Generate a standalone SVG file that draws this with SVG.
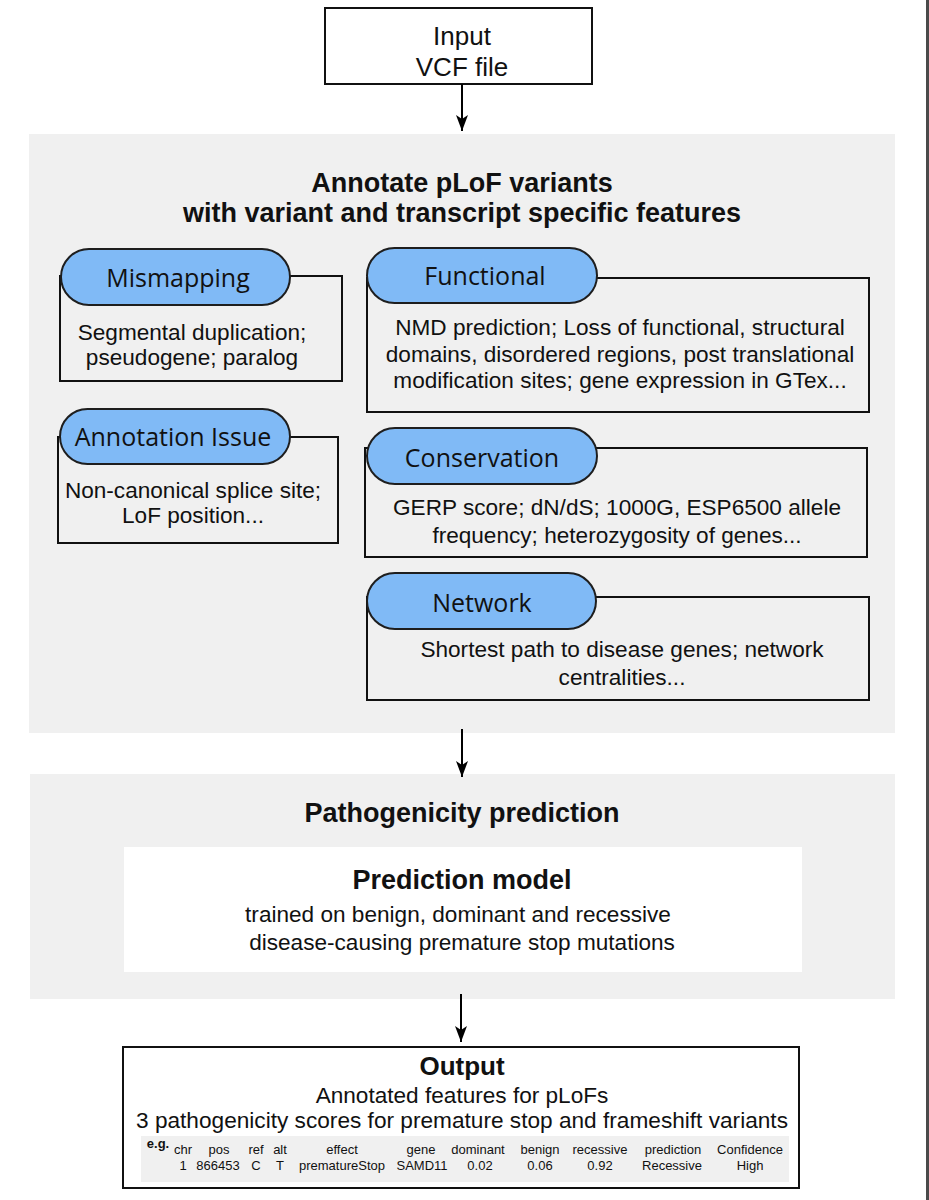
<svg xmlns="http://www.w3.org/2000/svg" width="929" height="1200" viewBox="0 0 929 1200">
<style>
  .t{font-family:"Liberation Sans",Arial,sans-serif;fill:#111;text-anchor:middle}
  .b{font-weight:bold}
  .body{font-size:22.6px}
  .pill{fill:#80baf6;stroke:#1e1e1e;stroke-width:2}
  .box{fill:none;stroke:#111;stroke-width:2}
  .plab{font-family:"Open Sans","Noto Sans",sans-serif;font-size:25px;fill:#111;text-anchor:middle}
  .panel{fill:#f0f0f0}
  .tb{font-family:"Liberation Sans",Arial,sans-serif;font-size:13px;fill:#111;text-anchor:middle}
  .conn{stroke:#000;stroke-width:2;fill:none;marker-end:url(#ah)}
</style>
<defs>
  <marker id="ah" viewBox="0 0 16 12" markerWidth="16" markerHeight="12" refX="16" refY="6" orient="auto" markerUnits="userSpaceOnUse">
    <path d="M0,0 L16,6 L0,12 L4,6 z" fill="#000"/>
  </marker>
</defs>
<rect x="0" y="0" width="929" height="1200" fill="#fff"/>
<rect x="926" y="0" width="3" height="1200" fill="#4a4a4a"/>

<g id="input">
  <rect x="325" y="8" width="267" height="76" fill="#fff" stroke="#111" stroke-width="2"/>
  <text class="t" x="462" y="45" font-size="26">Input</text>
  <text class="t" x="462" y="76" font-size="26">VCF file</text>
</g>

<g id="annotate">
  <rect class="panel" x="29" y="134" width="866" height="599"/>
  <text class="t b" x="462" y="192" font-size="27">Annotate pLoF variants</text>
  <text class="t b" x="462" y="222" font-size="27">with variant and transcript specific features</text>
</g>

<g id="mismapping">
  <rect class="box" x="60" y="276" width="282" height="105"/>
  <rect class="pill" x="61" y="249" width="229" height="56" rx="28" ry="28"/>
  <text class="plab" x="178" y="287">Mismapping</text>
  <text class="t body" x="192" y="340">Segmental duplication;</text>
  <text class="t body" x="192" y="365">pseudogene; paralog</text>
</g>

<g id="annotation-issue">
  <rect class="box" x="58" y="437" width="280" height="106"/>
  <rect class="pill" x="60" y="409" width="230" height="55" rx="27.5" ry="27.5"/>
  <text class="plab" x="173" y="446">Annotation Issue</text>
  <text class="t body" x="193" y="498">Non-canonical splice site;</text>
  <text class="t body" x="193" y="523">LoF position...</text>
</g>

<g id="functional">
  <rect class="box" x="367" y="278" width="502" height="134"/>
  <rect class="pill" x="367" y="248" width="230" height="55" rx="27.5" ry="27.5"/>
  <text class="plab" x="485" y="285">Functional</text>
  <text class="t body" x="620" y="335">NMD prediction; Loss of functional, structural</text>
  <text class="t body" x="620" y="362">domains, disordered regions, post translational</text>
  <text class="t body" x="620" y="388">modification sites; gene expression in GTex...</text>
</g>

<g id="conservation">
  <rect class="box" x="365" y="448" width="502" height="109"/>
  <rect class="pill" x="367" y="428" width="230" height="56" rx="28" ry="28"/>
  <text class="plab" x="482" y="467">Conservation</text>
  <text class="t body" x="617" y="515">GERP score; dN/dS; 1000G, ESP6500 allele</text>
  <text class="t body" x="617" y="543">frequency; heterozygosity of genes...</text>
</g>

<g id="network">
  <rect class="box" x="367" y="597" width="502" height="103"/>
  <rect class="pill" x="367" y="573" width="229" height="56" rx="28" ry="28"/>
  <text class="plab" x="482" y="612">Network</text>
  <text class="t body" x="622" y="657">Shortest path to disease genes; network</text>
  <text class="t body" x="622" y="685">centralities...</text>
</g>

<g id="pathogenicity">
  <rect class="panel" x="30" y="774" width="865" height="225"/>
  <text class="t b" x="462" y="822" font-size="27">Pathogenicity prediction</text>
</g>

<g id="prediction-model">
  <rect x="124" y="847" width="678" height="125" fill="#fff"/>
  <text class="t b" x="462" y="889" font-size="27">Prediction model</text>
  <text class="t body" x="458" y="922">trained on benign, dominant and recessive</text>
  <text class="t body" x="462" y="950">disease-causing premature stop mutations</text>
</g>

<g id="output">
  <rect x="123" y="1047" width="676" height="141" fill="#fff" stroke="#111" stroke-width="2"/>
  <text class="t b" x="462" y="1075" font-size="26">Output</text>
  <text class="t body" x="462" y="1103">Annotated features for pLoFs</text>
  <text class="t body" x="462" y="1128" textLength="652" lengthAdjust="spacingAndGlyphs">3 pathogenicity scores for premature stop and frameshift variants</text>
  <rect x="141" y="1136" width="648" height="46" fill="#f0f0f0"/>
  <text class="tb b" x="158" y="1148" font-size="10">e.g.</text>
  <text class="tb" x="183" y="1154">chr</text>
  <text class="tb" x="219" y="1154">pos</text>
  <text class="tb" x="256" y="1154">ref</text>
  <text class="tb" x="280" y="1154">alt</text>
  <text class="tb" x="342" y="1154">effect</text>
  <text class="tb" x="421" y="1154">gene</text>
  <text class="tb" x="478" y="1154">dominant</text>
  <text class="tb" x="540" y="1154">benign</text>
  <text class="tb" x="600" y="1154">recessive</text>
  <text class="tb" x="673" y="1154">prediction</text>
  <text class="tb" x="750" y="1154">Confidence</text>
  <text class="tb" x="183" y="1170">1</text>
  <text class="tb" x="218" y="1170">866453</text>
  <text class="tb" x="256" y="1170">C</text>
  <text class="tb" x="280" y="1170">T</text>
  <text class="tb" x="342" y="1170">prematureStop</text>
  <text class="tb" x="422" y="1170">SAMD11</text>
  <text class="tb" x="480" y="1170">0.02</text>
  <text class="tb" x="540" y="1170">0.06</text>
  <text class="tb" x="600" y="1170">0.92</text>
  <text class="tb" x="672" y="1170">Recessive</text>
  <text class="tb" x="750" y="1170">High</text>
</g>

<g id="connectors">
  <line class="conn" x1="462" y1="84" x2="462" y2="131"/>
  <line class="conn" x1="462" y1="729" x2="462" y2="777"/>
  <line class="conn" x1="461" y1="994" x2="461" y2="1042"/>
</g>
</svg>
